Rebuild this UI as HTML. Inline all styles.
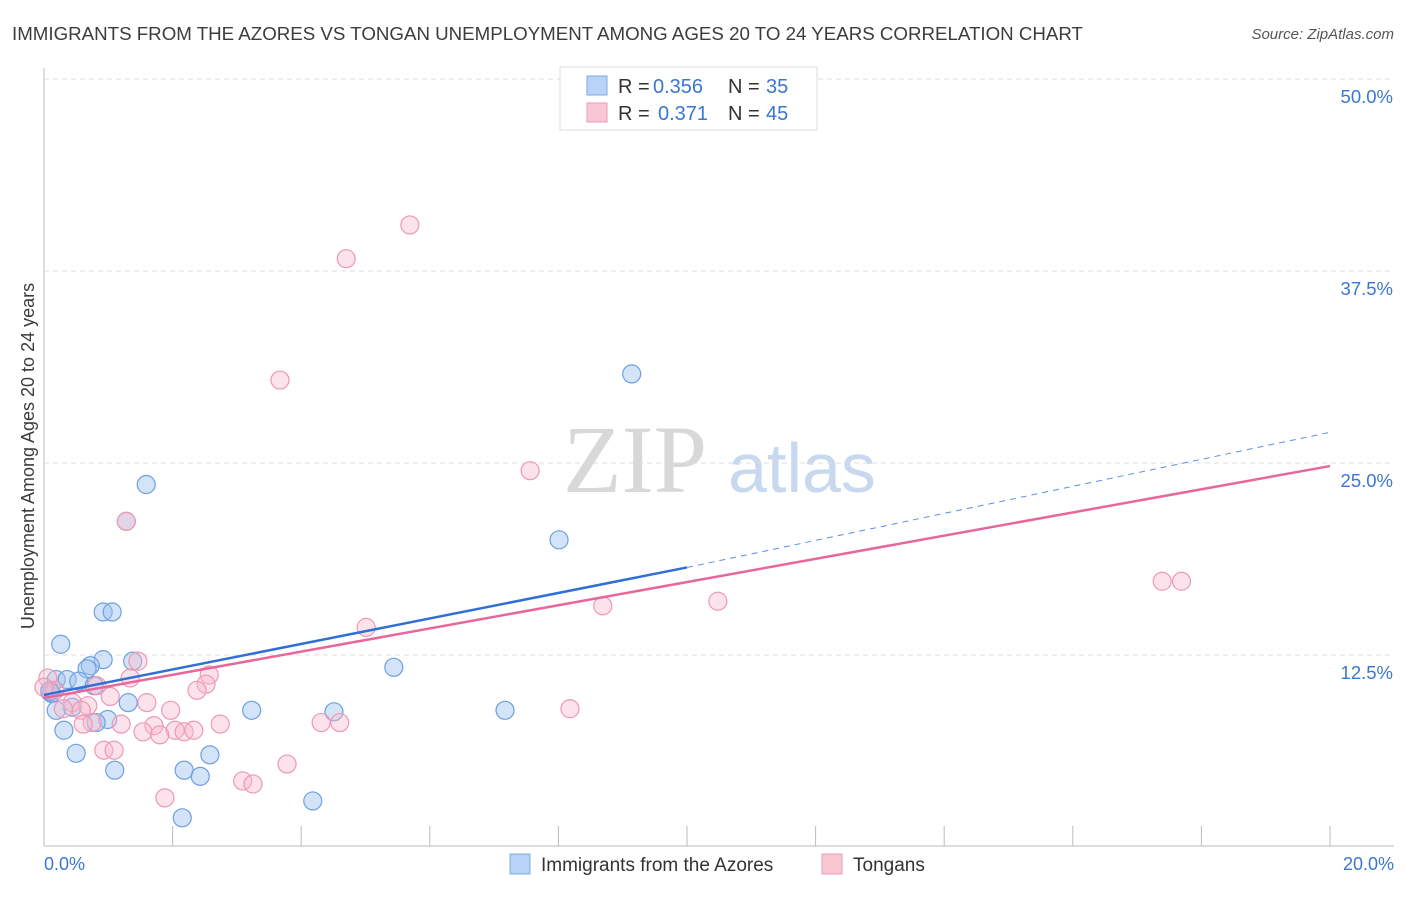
<!DOCTYPE html>
<html><head><meta charset="utf-8"><style>
body{margin:0;background:#fff;font-family:"Liberation Sans",sans-serif}
</style></head><body>
<svg id="c" width="1406" height="892" xmlns="http://www.w3.org/2000/svg">
<text x="12" y="40" font-size="18.5" fill="#3c3c3c" textLength="1071" lengthAdjust="spacingAndGlyphs">IMMIGRANTS FROM THE AZORES VS TONGAN UNEMPLOYMENT AMONG AGES 20 TO 24 YEARS CORRELATION CHART</text>
<text x="1394" y="39" font-size="15" fill="#555" font-style="italic" text-anchor="end">Source: ZipAtlas.com</text>
<text x="635" y="492" font-size="96" fill="#d8d8d8" font-family="Liberation Serif,serif" text-anchor="middle">ZIP</text>
<text x="802" y="492" font-size="70" fill="#c8d8ee" text-anchor="middle">atlas</text>
<text transform="translate(34,456) rotate(-90)" font-size="18" fill="#3c3c3c" text-anchor="middle">Unemployment Among Ages 20 to 24 years</text>
<g id="grid"></g><g id="pts"></g><g id="lines"></g>
<g>
<rect x="560" y="67" width="257" height="63" fill="#fff" stroke="#ddd"/>
<rect x="587" y="76" width="20" height="19" fill="#b7d3f5" stroke="#7fa9e0"/>
<rect x="587" y="103" width="20" height="19" fill="#f9c6d4" stroke="#ee9ab4"/>
<text x="618" y="93" font-size="20" fill="#333">R =</text><text x="653" y="93" font-size="20" fill="#3a76d2">0.356</text>
<text x="728" y="93" font-size="20" fill="#333">N =</text><text x="766" y="93" font-size="20" fill="#3a76d2">35</text>
<text x="618" y="120" font-size="20" fill="#333">R =</text><text x="658" y="120" font-size="20" fill="#3a76d2">0.371</text>
<text x="728" y="120" font-size="20" fill="#333">N =</text><text x="766" y="120" font-size="20" fill="#3a76d2">45</text>
</g>
<g>
<rect x="510" y="854" width="20" height="20" fill="#b7d3f5" stroke="#7fa9e0"/>
<text x="541" y="871" font-size="19" fill="#333">Immigrants from the Azores</text>
<rect x="822" y="854" width="20" height="20" fill="#f9c6d4" stroke="#ee9ab4"/>
<text x="853" y="871" font-size="19" fill="#333">Tongans</text>
</g>
<text x="44" y="870" font-size="18" fill="#3a76d2">0.0%</text>
<text x="1394" y="870" font-size="18" fill="#3a76d2" text-anchor="end">20.0%</text>
</svg>
<script>
const yTicks=[12.5,25,37.5,50];
const yTickLabels=["12.5%","25.0%","37.5%","50.0%"];
const azX=[9.14,1.59,1.28,8.01,0.92,1.06,0.26,0.92,1.38,0.72,0.67,0.19,0.36,0.54,0.78,0.09,0.12,1.31,0.44,0.19,3.23,4.51,5.44,7.17,0.99,0.81,0.31,0.50,2.58,1.10,2.18,2.43,4.18,2.15,0.09];
const azY=[30.8,23.6,21.2,20.0,15.3,15.3,13.2,12.2,12.1,11.8,11.6,10.9,10.9,10.8,10.5,10.2,10.0,9.4,9.1,8.9,8.9,8.8,11.7,8.9,8.3,8.1,7.6,6.1,6.0,5.0,5.0,4.6,3.0,1.9,10.1];
const toX=[5.69,4.70,3.67,7.56,1.28,17.39,17.69,10.48,8.69,5.01,1.46,0.06,0.17,2.57,2.52,2.38,1.34,0.82,1.03,1.60,0.44,0.68,0.30,0.58,1.97,8.18,0.75,1.20,1.71,2.74,4.31,4.60,1.54,2.04,2.18,2.33,1.80,0.61,0.93,1.09,3.78,3.09,3.25,1.88,0.0];
const toY=[40.5,38.3,30.4,24.5,21.2,17.3,17.3,16.0,15.7,14.3,12.1,11.0,10.2,11.2,10.6,10.2,11.0,10.5,9.8,9.4,9.4,9.2,9.0,8.9,8.9,9.0,8.1,8.0,7.9,8.0,8.1,8.1,7.5,7.6,7.5,7.6,7.3,8.0,6.3,6.3,5.4,4.3,4.1,3.2,10.4];
const azTrend=[9.9,18.2,27.0];
const toTrend=[9.7,24.8];
const NS="http://www.w3.org/2000/svg";
const X=v=>44+v/20*1286, Y=v=>847-v/12.5*192;
function mk(p,t,a){const e=document.createElementNS(NS,t);for(const k in a)e.setAttribute(k,a[k]);p.appendChild(e);return e;}
const g=document.getElementById('grid');
mk(g,'line',{x1:44,y1:68,x2:44,y2:846,stroke:'#bbb'});
mk(g,'line',{x1:44,y1:846,x2:1394,y2:846,stroke:'#bbb'});
yTicks.forEach((t,i)=>{
 const l=mk(g,'line',{x1:44,y1:Y(t),x2:1394,y2:Y(t),stroke:'#ddd','stroke-dasharray':'5,4'});
 
 
 const tx=mk(g,'text',{x:1393,y:Y(t)+24,'font-size':18.5,fill:'#3a76d2','text-anchor':'end'});
 tx.textContent=yTickLabels[i];
 
 
});
for(let i=1;i<=10;i++){const x=X(i*2);const l=mk(g,'line',{x1:x,y1:826,x2:x,y2:846,stroke:'#bbb'});
 
 }
const p=document.getElementById('pts');
azX.forEach((v,i)=>{const c=mk(p,'circle',{cx:X(v),cy:Y(azY[i]),r:9,fill:'rgba(160,196,240,0.45)',stroke:'#6e9fdf','stroke-width':1.2});
 
 });
toX.forEach((v,i)=>{const c=mk(p,'circle',{cx:X(v),cy:Y(toY[i]),r:9,fill:'rgba(248,184,204,0.4)',stroke:'#ee98b2','stroke-width':1.2});
 
 });
const L=document.getElementById('lines');
let a=mk(L,'line',{x1:X(0),y1:Y(azTrend[0]),x2:X(10),y2:Y(azTrend[1]),stroke:'#2f6fd6','stroke-width':2.5});


let b=mk(L,'line',{x1:X(10),y1:Y(azTrend[1]),x2:X(20),y2:Y(azTrend[2]),stroke:'#5b8fe0','stroke-width':1,'stroke-dasharray':'6,5'});


let c=mk(L,'line',{x1:X(0),y1:Y(toTrend[0]),x2:X(20),y2:Y(toTrend[1]),stroke:'#e8679a','stroke-width':2.5});


</script>
</body></html>
